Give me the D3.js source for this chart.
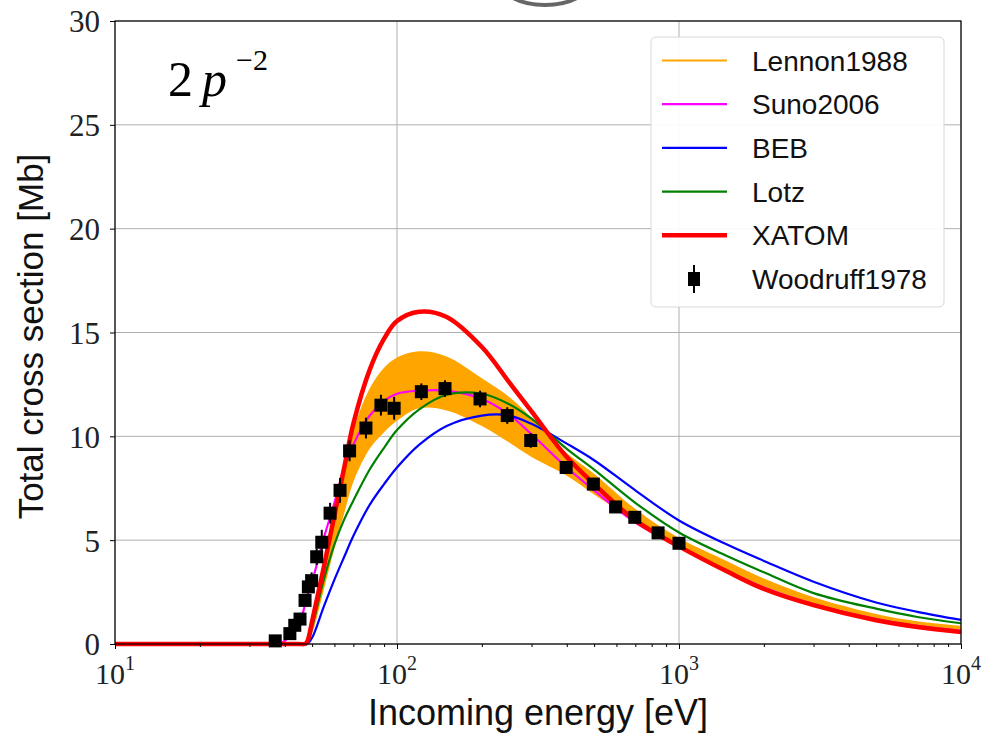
<!DOCTYPE html>
<html>
<head>
<meta charset="utf-8">
<script src="https://d3js.org/d3.v7.min.js"></script>
<style>
  body { margin: 0; background: #fff; }
  svg { display: block; }
  .serif { font-family: "Liberation Serif", "Times New Roman", serif; }
  .sans { font-family: "Liberation Sans", Arial, sans-serif; }
</style>
</head>
<body>
<div id="chart"></div>
<script>
// energy grid (eV) shared by the model curves
var energy = [10, 30, 38, 40, 45, 47, 48, 50, 55, 60, 65, 70, 80, 90, 100, 120, 150, 200, 250, 300, 400, 500, 700, 1000, 1500, 2000, 3000, 5000, 7000, 10000];

// cross sections in Mb
var lennonLo = [0,0,0,0,0,0,0,0.5,2.6,4.6,6.3,7.8,9.4,10.2,10.75,11.35,11.25,10.5,9.7,9.0,8.1,7.2,5.9,4.6,3.5,2.75,1.95,1.2,0.88,0.68];
var lennonHi = [0,0,0,0,0,0,0.1,1.1,3.7,6.2,8.5,10.3,12.3,13.3,13.8,14.1,13.85,12.8,11.9,10.9,9.2,8.2,6.5,5.1,3.95,3.15,2.25,1.45,1.1,0.88];
var suno = [0,0,0,0.15,1.0,1.8,2.3,3.0,5.1,6.8,8.5,9.6,11.0,11.7,12.05,12.2,12.2,11.8,11.05,10.1,8.5,7.4,5.85,4.7,3.5,2.72,1.92,1.2,0.87,0.63];
var beb = [0,0,0,0,0,0,0,0.3,1.8,3.1,4.2,5.2,6.7,7.7,8.5,9.6,10.5,11.0,11.0,10.6,9.65,8.85,7.4,5.95,4.75,4.0,3.0,2.0,1.55,1.16];
var lotz = [0,0,0,0,0,0,0,0.8,3.1,4.8,6.0,6.9,8.4,9.45,10.3,11.3,12.0,12.05,11.55,10.85,9.4,8.4,6.8,5.37,4.2,3.45,2.45,1.7,1.3,1.0];
var xatom = [0,0,0,0,0,0,0.1,1.1,3.7,6.2,8.5,10.6,13.2,14.7,15.55,16.0,15.75,14.3,12.6,11.2,9.0,7.7,5.95,4.7,3.45,2.65,1.87,1.14,0.82,0.58];

// Woodruff1978 measurements
var woodE = [37, 41.7, 43.4, 45.3, 47.2, 48.5, 49.8, 51.9, 54.1, 57.9, 62.8, 67.9, 77.6, 87.7, 97.7, 122, 148, 197, 246, 298, 398, 497, 596, 697, 843, 1000];
var woodS = [0.15, 0.5, 0.9, 1.2, 2.1, 2.75, 3.05, 4.2, 4.9, 6.3, 7.4, 9.3, 10.4, 11.5, 11.35, 12.15, 12.3, 11.8, 11.0, 9.8, 8.5, 7.7, 6.6, 6.1, 5.35, 4.85];
var woodErr = [0.1, 0.2, 0.2, 0.3, 0.3, 0.3, 0.4, 0.4, 0.6, 0.5, 0.6, 0.5, 0.5, 0.5, 0.55, 0.4, 0.4, 0.4, 0.4, 0.35, 0.3, 0.3, 0.25, 0.25, 0.2, 0.2];

var xTicks = [10, 100, 1000, 10000];
var xTickExp = ["1", "2", "3", "4"];
var yTicks = [0, 5, 10, 15, 20, 25, 30];

var legendNames = ["Lennon1988", "Suno2006", "BEB", "Lotz", "XATOM", "Woodruff1978"];
var legendColors = ["#ffa500", "#ff00ff", "#0000ff", "#008000", "#ff0000", "#000000"];
var legendWidths = [2.2, 2.2, 2.2, 2.2, 4.5, 0];

var W = 983, H = 733;
var plotL = 115, plotR = 961, plotT = 21, plotB = 644;

var svg = d3.select("#chart").append("svg")
    .attr("width", W)
    .attr("height", H);

var x = d3.scaleLog().domain([10, 10000]).range([plotL, plotR]);
var y = d3.scaleLinear().domain([0, 30]).range([plotB, plotT]);

var smooth = d3.curveCatmullRom.alpha(0.5);

// cropped bit of an image above the plot
svg.append("ellipse")
    .attr("cx", 545).attr("cy", -20)
    .attr("rx", 46).attr("ry", 25)
    .attr("fill", "none")
    .attr("stroke", "#333")
    .attr("stroke-width", 4)
    .attr("opacity", 0.75);

// grid
svg.append("g")
    .selectAll("line")
    .data(xTicks)
    .enter().append("line")
    .attr("x1", d => x(d)).attr("x2", d => x(d))
    .attr("y1", plotT).attr("y2", plotB)
    .attr("stroke", "#b0b0b0").attr("stroke-width", 1);

svg.append("g")
    .selectAll("line")
    .data(yTicks)
    .enter().append("line")
    .attr("x1", plotL).attr("x2", plotR)
    .attr("y1", d => y(d)).attr("y2", d => y(d))
    .attr("stroke", "#b0b0b0").attr("stroke-width", 1);

// curves
var rows = energy.map(function (e, i) {
    return { e: e, lo: lennonLo[i], hi: lennonHi[i], suno: suno[i], beb: beb[i], lotz: lotz[i], xatom: xatom[i] };
});

var band = d3.area()
    .x(d => x(d.e))
    .y0(d => y(d.lo))
    .y1(d => y(d.hi))
    .curve(smooth);

svg.append("path")
    .datum(rows)
    .attr("d", band)
    .attr("fill", "#ffa500");

function drawLine(key, color, width) {
    var line = d3.line()
        .x(d => x(d.e))
        .y(d => y(d[key]))
        .curve(smooth);
    svg.append("path")
        .datum(rows)
        .attr("d", line)
        .attr("fill", "none")
        .attr("stroke", color)
        .attr("stroke-width", width)
        .attr("stroke-linejoin", "round");
}

drawLine("suno", "#ff00ff", 2.2);
drawLine("beb", "#0000ff", 2.2);
drawLine("lotz", "#008000", 2.2);
drawLine("xatom", "#ff0000", 4.5);

// Woodruff points with error bars
var pts = woodE.map(function (e, i) { return { e: e, s: woodS[i], err: woodErr[i] }; });

svg.append("g")
    .selectAll("line")
    .data(pts)
    .enter().append("line")
    .attr("x1", d => x(d.e)).attr("x2", d => x(d.e))
    .attr("y1", d => y(d.s - d.err)).attr("y2", d => y(d.s + d.err))
    .attr("stroke", "#000").attr("stroke-width", 2);

var ms = 13;
svg.append("g")
    .selectAll("rect")
    .data(pts)
    .enter().append("rect")
    .attr("x", d => x(d.e) - ms / 2)
    .attr("y", d => y(d.s) - ms / 2)
    .attr("width", ms).attr("height", ms)
    .attr("fill", "#000");

// frame
svg.append("rect")
    .attr("x", plotL).attr("y", plotT)
    .attr("width", plotR - plotL).attr("height", plotB - plotT)
    .attr("fill", "none")
    .attr("stroke", "#000")
    .attr("stroke-width", 1.2);

// x axis
var minor = [];
[10, 100, 1000].forEach(function (d) {
    for (var k = 2; k <= 9; k++) minor.push(d * k);
});

var gx = svg.append("g")
    .attr("transform", "translate(0," + plotB + ")")
    .call(d3.axisBottom(x).tickValues(xTicks).tickSize(5).tickFormat(() => ""));
gx.select(".domain").remove();

var gxm = svg.append("g")
    .attr("transform", "translate(0," + plotB + ")")
    .call(d3.axisBottom(x).tickValues(minor).tickSize(3).tickFormat(() => ""));
gxm.select(".domain").remove();

var xl = svg.append("g")
    .selectAll("text")
    .data(xTicks)
    .enter().append("text")
    .attr("class", "serif")
    .attr("x", d => x(d))
    .attr("y", 684)
    .attr("text-anchor", "middle")
    .attr("font-size", 30)
    .attr("fill", "#222");
xl.append("tspan").text("10");
xl.append("tspan")
    .attr("dy", -14)
    .attr("font-size", 20)
    .text((d, i) => xTickExp[i]);

// y axis
var gy = svg.append("g")
    .attr("transform", "translate(" + plotL + ",0)")
    .call(d3.axisLeft(y).tickValues(yTicks).tickSize(5).tickPadding(10).tickFormat(d3.format("d")));
gy.select(".domain").remove();
gy.selectAll("text")
    .attr("class", "serif")
    .attr("font-size", 31)
    .attr("fill", "#222")
    .attr("dy", "0.35em");

// axis titles
svg.append("text")
    .attr("class", "sans")
    .attr("x", (plotL + plotR) / 2)
    .attr("y", 725)
    .attr("text-anchor", "middle")
    .attr("font-size", 36)
    .attr("fill", "#111")
    .text("Incoming energy [eV]");

svg.append("text")
    .attr("class", "sans")
    .attr("transform", "translate(43," + ((plotT + plotB) / 2 + 4) + ") rotate(-90)")
    .attr("text-anchor", "middle")
    .attr("font-size", 35)
    .attr("fill", "#111")
    .text("Total cross section [Mb]");

// annotation 2 p^-2
svg.append("text")
    .attr("class", "serif")
    .attr("x", 168).attr("y", 96)
    .attr("font-size", 50)
    .text("2");
svg.append("text")
    .attr("class", "serif")
    .attr("x", 202).attr("y", 96)
    .attr("font-size", 50)
    .attr("font-style", "italic")
    .text("p");
svg.append("text")
    .attr("class", "serif")
    .attr("x", 236).attr("y", 70)
    .attr("font-size", 30)
    .text("\u22122");

// legend
var lg = svg.append("g");
lg.append("rect")
    .attr("x", 651).attr("y", 37)
    .attr("width", 293).attr("height", 270)
    .attr("rx", 5)
    .attr("fill", "#fff")
    .attr("fill-opacity", 0.92)
    .attr("stroke", "#d8d8d8");

var item = lg.selectAll("g.item")
    .data(legendNames)
    .enter().append("g")
    .attr("transform", (d, i) => "translate(0," + (60.5 + i * 43.7) + ")");

item.filter((d, i) => i < 5).append("line")
    .attr("x1", 662).attr("x2", 727)
    .attr("y1", 0).attr("y2", 0)
    .attr("stroke", (d, i) => legendColors[i])
    .attr("stroke-width", (d, i) => legendWidths[i]);

var wood = item.filter((d, i) => i === 5);
wood.append("line")
    .attr("x1", 694).attr("x2", 694)
    .attr("y1", -14).attr("y2", 14)
    .attr("stroke", "#000").attr("stroke-width", 2);
wood.append("rect")
    .attr("x", 688).attr("y", -7)
    .attr("width", 12).attr("height", 14)
    .attr("fill", "#000");

item.append("text")
    .attr("class", "sans")
    .attr("x", 752)
    .attr("y", 10)
    .attr("font-size", 28)
    .attr("fill", "#111")
    .text(d => d);
</script>
</body>
</html>
